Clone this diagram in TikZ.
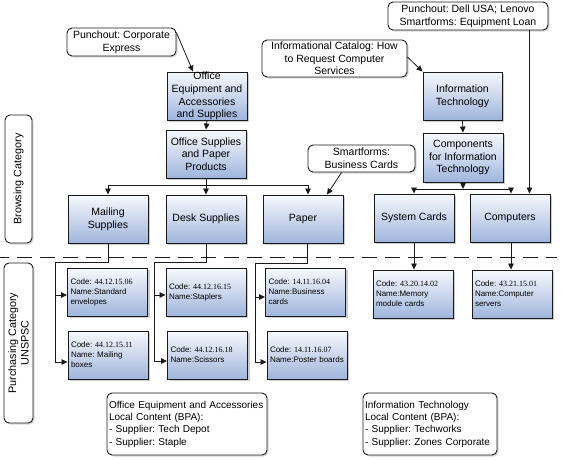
\documentclass[tikz,border=0pt]{standalone}
\usepackage{fontspec}
\setmainfont{Liberation Sans}
\newfontfamily\numfont{Liberation Serif}
\usetikzlibrary{arrows.meta,shadows,calc}
\definecolor{boxtop}{HTML}{F7F9FD}
\definecolor{boxbot}{HTML}{9FB5DD}
\definecolor{edge}{HTML}{1A1A1A}
\newcommand{\cd}[1]{Code:~{\numfont #1}}
\frenchspacing
\tikzset{
  catbox/.style={draw=edge, line width=0.9pt, top color=boxtop, bottom color=boxbot,
    minimum width=80pt, minimum height=48pt, inner ysep=0pt, inner xsep=1pt, align=center,
    font=\fontsize{10.5}{12.7}\selectfont,
    drop shadow={shadow xshift=2pt, shadow yshift=-2pt, fill=black!40}},
  codebox/.style={draw=edge, line width=0.9pt, top color=boxtop, bottom color=boxbot,
    minimum width=80pt, minimum height=48pt, inner ysep=0pt, inner xsep=3pt,
    text width=74pt, align=left,
    font=\fontsize{8}{10}\selectfont,
    drop shadow={shadow xshift=2pt, shadow yshift=-2pt, fill=black!40}},
  callout/.style={draw=edge, line width=0.9pt, rounded corners=5pt, fill=white,
    inner sep=1pt, align=center, font=\fontsize{10.5}{12.7}\selectfont,
    drop shadow={shadow xshift=1.5pt, shadow yshift=-1.5pt, fill=black!30}},
  arr/.style={draw=edge, line width=0.8pt, -{Triangle[length=6pt,width=5.5pt]}},
  ln/.style={draw=edge, line width=0.8pt},
}
\begin{document}
\begin{tikzpicture}[x=1pt,y=1pt]
\useasboundingbox (0,0) rectangle (563,-459);

% side labels
\node[callout, rotate=90, minimum width=128pt, minimum height=27pt,
  font=\fontsize{10.8}{12.7}\selectfont] (bc) at (18.5,-179) {Browsing Category};
\node[callout, rotate=90, minimum width=160pt, minimum height=29pt,
  font=\fontsize{10.8}{12.7}\selectfont] (pc) at (18.5,-343) {Purchasing Category\\UNSPSC};

% dashed separator
\draw[edge, line width=0.8pt, dash pattern=on 15pt off 8pt] (-6,-257) -- (557,-257);

% callouts
\node[callout, minimum width=109pt, minimum height=28pt] (pce) at (121.5,-42) {Punchout: Corporate\\Express};
\node[callout, minimum width=145pt, minimum height=37pt] (ict) at (334.5,-58.5) {Informational Catalog: How\\to Request Computer\\Services};
\node[callout, minimum width=160pt, minimum height=28pt] (pdl) at (468,-16) {Punchout: Dell USA; Lenovo\\Smartforms: Equipment Loan};
\node[callout, minimum width=107pt, minimum height=27pt] (sbc) at (361.5,-158.5) {Smartforms:\\Business Cards};
\node[callout, minimum width=160pt, minimum height=62pt, text width=156pt, align=left,
  font=\fontsize{10}{12.3}\selectfont] (lc1) at (187,-424)
  {Office Equipment and Accessories\\Local Content (BPA):\\- Supplier: Tech Depot\\- Supplier: Staple};
\node[callout, minimum width=134pt, minimum height=62pt, text width=130pt, align=left,
  font=\fontsize{10}{12.3}\selectfont] (lc2) at (430,-424)
  {Information Technology\\Local Content (BPA):\\- Supplier: Techworks\\- Supplier: Zones Corporate};

% category boxes
\node[catbox] (oe) at (207,-96) {Office\\Equipment and\\Accessories\\and Supplies};
\node[catbox] (os) at (206,-154) {Office Supplies\\and Paper\\Products};
\node[catbox] (ms) at (108,-219) {Mailing\\Supplies};
\node[catbox] (ds) at (206,-219) {Desk Supplies};
\node[catbox] (pa) at (303,-219) {Paper};
\node[catbox, minimum width=79pt] (it) at (462.5,-96) {Information\\Technology};
\node[catbox, minimum height=49pt] (co) at (463,-157.5) {Components\\for Information\\Technology};
\node[catbox] (sc) at (414,-218) {System Cards};
\node[catbox] (cm) at (510,-218) {Computers};

% code boxes
\node[codebox] (c1) at (107.5,-292) {\cd{44.12.15.06}\\Name:Standard\\envelopes};
\node[codebox] (c2) at (108,-355) {\cd{44.12.15.11}\\Name: Mailing\\boxes};
\node[codebox] (c3) at (206,-292) {\cd{44.12.16.15}\\Name:Staplers};
\node[codebox] (c4) at (207.5,-355) {\cd{44.12.16.18}\\Name:Scissors};
\node[codebox] (c5) at (305.5,-292) {\cd{14.11.16.04}\\Name:Business\\cards};
\node[codebox] (c6) at (307,-355) {\cd{14.11.16.07}\\Name:Poster boards};
\node[codebox] (c7) at (413,-294) {\cd{43.20.14.02}\\Name:Memory\\module cards};
\node[codebox] (c8) at (512,-294) {\cd{43.21.15.01}\\Name:Computer\\servers};

% connectors: callouts
\draw[arr] ($(pce.north east)+(0,-5)$) -- ($(oe.north)+(-14,0)$);
\draw[arr] ($(ict.east)+(0,1.5)$) -- (it.north west);
\draw[arr] ($(sbc.south west)+(34,0)$) -- ($(pa.north)+(24,0)$);
\coordinate (pk) at ($(pdl.south east)+(-19,0)$);
\draw[arr] (pk) -- (pk |- cm.north);

% office branch
\draw[arr] (oe.south) -- (os.north);
\coordinate (b1) at ($(os.south)+(0,-7)$);
\draw[ln] (os.south) -- (b1);
\draw[arr] (b1) -| (ms.north);
\draw[arr] (b1) -- (ds.north);
\coordinate (pt) at ($(pa.north)+(5,0)$);
\draw[arr] (b1) -| (pt);

% IT branch
\draw[arr] (it.south) -- (co.north);
\coordinate (b2) at ($(co.south)+(0,-6.5)$);
\draw[arr] (co.south) -- (b2);
\draw[arr] (b2) -| (sc.north);
\coordinate (ct) at ($(cm.north)+(1,0)$);
\draw[arr] (b2) -| (ct);

% code connectors
\coordinate (m1) at ($(ms.south)+(0,-19)$);
\coordinate (m2) at ($(m1)+(-53,0)$);
\coordinate (e1) at ($(c1.west)+(0,-3)$);
\coordinate (e2) at ($(c2.west)+(0,-7)$);
\draw[ln] (ms.south) -- (m1) -- (m2) -- (m2 |- e2);
\draw[arr] (m2 |- e1) -- (e1);
\draw[arr] (m2 |- e2) -- (e2);

\coordinate (d1) at ($(ds.south)+(0,-19)$);
\coordinate (d2) at ($(d1)+(-52,0)$);
\coordinate (e3) at ($(c3.west)+(0,-3)$);
\coordinate (e4) at ($(c4.west)+(0,-6)$);
\draw[ln] (ds.south) -- (d1) -- (d2) -- (d2 |- e4);
\draw[arr] (d2 |- e3) -- (e3);
\draw[arr] (d2 |- e4) -- (e4);

\coordinate (p0) at ($(pa.south)+(4,0)$);
\coordinate (p1) at ($(p0)+(0,-20)$);
\coordinate (p2) at ($(p1)+(-52,0)$);
\coordinate (e5) at ($(c5.west)+(0,-5)$);
\coordinate (e6) at ($(c6.west)+(0,-7)$);
\draw[ln] (p0) -- (p1) -- (p2) -- (p2 |- e6);
\draw[arr] (p2 |- e5) -- (e5);
\draw[arr] (p2 |- e6) -- (e6);

\draw[arr] (sc.south) -- (sc.south |- c7.north);
\coordinate (q0) at ($(cm.south)+(1,0)$);
\draw[arr] (q0) -- (q0 |- c8.north);
\end{tikzpicture}
\end{document}
